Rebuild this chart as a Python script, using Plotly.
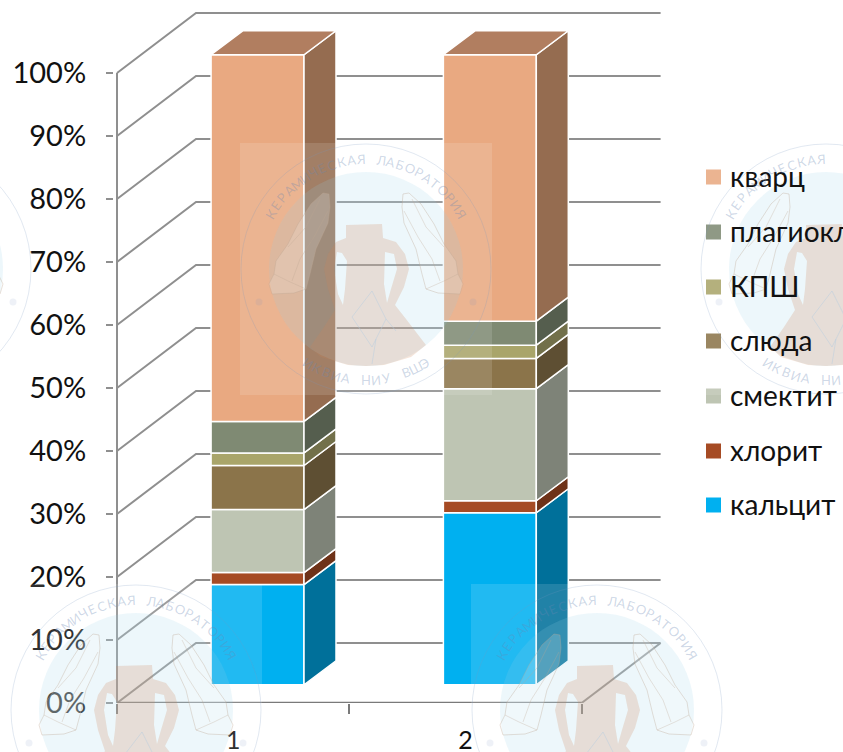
import math
import numpy as np
import plotly.graph_objects as go

categories = ["1", "2"]
series_names = ["кальцит", "хлорит", "смектит", "слюда", "КПШ", "плагиоклаз", "кварц"]
kalcit = [15.9, 27.3]
hlorit = [1.9, 1.9]
smektit = [10.0, 17.8]
sluda = [7.0, 4.8]
kpsh = [2.0, 2.1]
plagioklaz = [5.0, 3.8]
kvarc = [58.2, 42.3]
series_values = [kalcit, hlorit, smektit, sluda, kpsh, plagioklaz, kvarc]
front_colors = ["#00B0F0", "#A64B24", "#BEC5B3", "#8B744A", "#A9A56A", "#7F8A73", "#E9A981"]
side_colors = ["#00709A", "#6E3218", "#7E8378", "#5E4F33", "#72704A", "#555E4E", "#956C50"]
top_color = "#B17E60"
y_ticks = list(range(0, 101, 10))

# figure geometry (pixels)
W, H = 843, 752
L, B = 117, 703
PAD = 3                                  # plot area starts a little left of the wall, so its line is not clipped
XU, YU = 232.3, 6.3
GRID = "#8F8F8F"
WALL_DX, WALL_DY = 79 / XU, 60 / YU      # depth of walls in axis units
BAR_DX, BAR_DY = 32 / XU, 24 / YU        # depth of a bar
BAR_W, BAR_OFF, FRONT = 0.40, 0.605, 2.9 # bar width, centre offset, floor lift of front faces
X_END = 2.0

fig = go.Figure()

# walls and floor
gx, gy = [], []
for t in y_ticks:
    gx += [0, WALL_DX, X_END + WALL_DX - 0.0, None]
    gy += [t, t + WALL_DY, t + WALL_DY, None]
gx += [0, 0, None, X_END, X_END + WALL_DX, None]
gy += [0, 100, None, 0, WALL_DY, None]
fig.add_trace(go.Scatter(x=gx, y=gy, mode="lines", line=dict(color=GRID, width=2), cliponaxis=False,
                         showlegend=False, hoverinfo="skip", zorder=0))
fig.add_trace(go.Scatter(x=[0, X_END], y=[0, 0], mode="lines", line=dict(color="#7A7A7A", width=2.5),
                         cliponaxis=False, showlegend=False, hoverinfo="skip", zorder=0))

# front faces and side faces
pos = [i + BAR_OFF for i in range(len(categories))]
base = np.full(len(categories), FRONT)
for name, vals, fc, sc in zip(series_names, series_values, front_colors, side_colors):
    v = np.array(vals)
    fig.add_trace(go.Bar(x=pos, y=v, base=base, width=BAR_W, name=name, showlegend=False,
                         marker=dict(color=fc, line=dict(color="white", width=1.5)), zorder=1))
    sx, sy = [], []
    for p, b, h in zip(pos, base, v):
        r = p + BAR_W / 2
        sx += [r, r + BAR_DX, r + BAR_DX, r, r, None]
        sy += [b, b + BAR_DY, b + h + BAR_DY, b + h, b, None]
    fig.add_trace(go.Scatter(x=sx, y=sy, mode="lines", fill="toself", fillcolor=sc,
                             line=dict(color="white", width=1.5), showlegend=False,
                             hoverinfo="skip", zorder=2))
    base = base + v

tx, ty = [], []
for p, t in zip(pos, base):
    l, r = p - BAR_W / 2, p + BAR_W / 2
    tx += [l, r, r + BAR_DX, l + BAR_DX, l, None]
    ty += [t, t, t + BAR_DY, t + BAR_DY, t, None]
fig.add_trace(go.Scatter(x=tx, y=ty, mode="lines", fill="toself", fillcolor=top_color,
                         line=dict(color="white", width=1.5), showlegend=False,
                         hoverinfo="skip", zorder=2))

# pixel -> paper helpers
PL = L - PAD
PW, PH = W - PL, B
def px(x): return (x - PL) / PW
def py(y): return (B - y) / PH

shapes, annos = [], []

# legend
leg_y = [505, 451, 396, 341, 287, 232, 177]
for name, col, yy in zip(series_names, front_colors, leg_y):
    shapes.append(dict(type="rect", xref="paper", yref="paper", x0=px(706), x1=px(721),
                       y0=py(yy + 7.5), y1=py(yy - 7.5), fillcolor=col, line=dict(width=0), layer="below"))
    annos.append(dict(text=name, xref="paper", yref="paper", x=px(728), y=py(yy - 1), xanchor="left",
                      yanchor="middle", showarrow=False, font=dict(size=28, color="#111111", family="Lato")))

# watermark tiles
def poly(pts, cx, cy, closed=True, mirror=False):
    s = []
    for i, (a, b) in enumerate(pts):
        a = -a if mirror else a
        s.append(("M" if i == 0 else "L") + f"{px(cx + a):.5f},{py(cy + b):.5f}")
    return " ".join(s) + (" Z" if closed else "")

JUG = [(-20, -44), (16, -45), (17, -31), (30, -27), (39, -15), (43, 0), (38, 18), (29, 36), (40, 50), (60, 76), (45, 88),
       (18, 96), (0, 97), (-18, 96), (-45, 88), (-56, 78), (-42, 58), (-31, 41), (-38, 20), (-42, 0), (-38, -15), (-30, -27), (-20, -31)]
HOLE_L = [(-32, 0), (-28, 25), (-23, 36), (-21, 20), (-19, -8), (-24, -16), (-29, -17)]
HOLE_R = [(18, 15), (21, 34), (25, 20), (31, 0), (28, -15), (19, -17)]
HAND = [(-43, -76), (-37, -75), (-36, -62), (-38, -46), (-50, -20), (-56, 5), (-60, 20), (-72, 24), (-94, 25),
        (-97, 15), (-92, 5), (-90, -8), (-78, -25), (-68, -45), (-55, -65)]
FINGERS = [[(-46, -70), (-60, -42), (-78, -22)], [(-38, -58), (-52, -32), (-66, -10), (-74, 12)], [(-92, 5), (-78, 12), (-60, 20)]]
CRACKS = [[(-14, 48), (6, 22), (20, 50), (10, 70), (6, 95)], [(-14, 48), (6, 78), (10, 70)], [(20, 50), (30, 62)]]
TOP_TXT = "КЕРАМИЧЕСКАЯ ЛАБОРАТОРИЯ"
BOT_TXT = "ИКВИА НИУ ВШЭ"
TXT = "rgba(105,135,180,0.33)"

def tile(cx, cy):
    add = lambda **k: shapes.append(dict(xref="paper", yref="paper", layer="above", **k))
    add(type="rect", x0=px(cx - 126), x1=px(cx + 126), y0=py(cy + 126), y1=py(cy - 126),
        fillcolor="rgba(255,255,255,0.13)", line=dict(width=0))
    add(type="circle", x0=px(cx - 125), x1=px(cx + 125), y0=py(cy + 125), y1=py(cy - 125),
        fillcolor="rgba(0,0,0,0)", line=dict(color="rgba(120,150,190,0.22)", width=1))
    add(type="circle", x0=px(cx - 97), x1=px(cx + 97), y0=py(cy + 97), y1=py(cy - 97),
        fillcolor="rgba(150,205,230,0.17)", line=dict(width=0))
    add(type="path", path=" ".join([poly(JUG, cx, cy), poly(HOLE_L, cx, cy), poly(HOLE_R, cx, cy)]),
        fillcolor="rgba(205,130,85,0.22)", line=dict(width=0))
    for m in (False, True):
        add(type="path", path=poly(HAND, cx, cy, mirror=m), fillcolor="rgba(255,255,255,0.16)",
            line=dict(color="rgba(190,165,145,0.35)", width=1))
        for f in FINGERS:
            add(type="path", path=poly(f, cx, cy, closed=False, mirror=m),
                line=dict(color="rgba(190,165,145,0.3)", width=1))
        sgn = 1 if m else -1
        add(type="circle", x0=px(cx + sgn * 107 - 3.5), x1=px(cx + sgn * 107 + 3.5),
            y0=py(cy + 36.5), y1=py(cy + 29.5), fillcolor="rgba(120,150,190,0.13)", line=dict(width=0))
    for c in CRACKS:
        add(type="path", path=poly(c, cx, cy, closed=False), line=dict(color="rgba(180,205,225,0.45)", width=1))
    for txt, r, mid, step, sign in ((TOP_TXT, 110, 0, 5.2, 1), (BOT_TXT, 111, 180, -5.3, -1)):
        n = len(txt)
        for i, ch in enumerate(txt):
            if ch == " ":
                continue
            ang = mid + (i - (n - 1) / 2) * step
            a = math.radians(ang)
            x_p, y_p = cx + r * math.sin(a), cy - r * math.cos(a)
            if not (4 < x_p < W - 4 and 4 < y_p < H - 4):
                continue
            rot = ang if sign == 1 else ang - 180
            annos.append(dict(text=ch, xref="paper", yref="paper", x=px(x_p), y=py(y_p), showarrow=False,
                              textangle=rot, xanchor="center", yanchor="middle",
                              font=dict(size=13, color=TXT, family="Lato")))

for c in [(366, 269), (826, 269), (-94, 269), (136, 710), (597, 710)]:
    tile(*c)

fig.update_layout(
    width=W, height=H, margin=dict(l=PL, r=0, t=0, b=H - B, autoexpand=False),
    paper_bgcolor="white", plot_bgcolor="rgba(0,0,0,0)", barmode="overlay", showlegend=False,
    font=dict(family="Lato", color="#111111"), shapes=shapes, annotations=annos,
    xaxis=dict(range=[-PAD / XU, (W - L) / XU], showgrid=False, zeroline=False, showline=False,
               tickmode="array", tickvals=[i + 0.5 for i in range(len(categories))], ticktext=categories,
               ticks="", ticklabelstandoff=20, tickfont=dict(size=25, color="#111111"),
               minor=dict(tickmode="array", tickvals=list(range(len(categories) + 1)), ticks="outside",
                          ticklen=10, tickwidth=2, tickcolor="#7A7A7A")),
    yaxis=dict(range=[0, B / YU], showgrid=False, zeroline=False, showline=False,
               tickmode="array", tickvals=y_ticks, ticktext=[f"{t}%" for t in y_ticks],
               ticks="outside", ticklen=7, tickwidth=2, tickcolor=GRID, ticklabelstandoff=14,
               tickfont=dict(size=29, color="#111111")),
)
fig.write_html("out.html", config=dict(displayModeBar=False),
               post_script="document.body.style.margin='0';document.body.style.overflow='hidden';")
